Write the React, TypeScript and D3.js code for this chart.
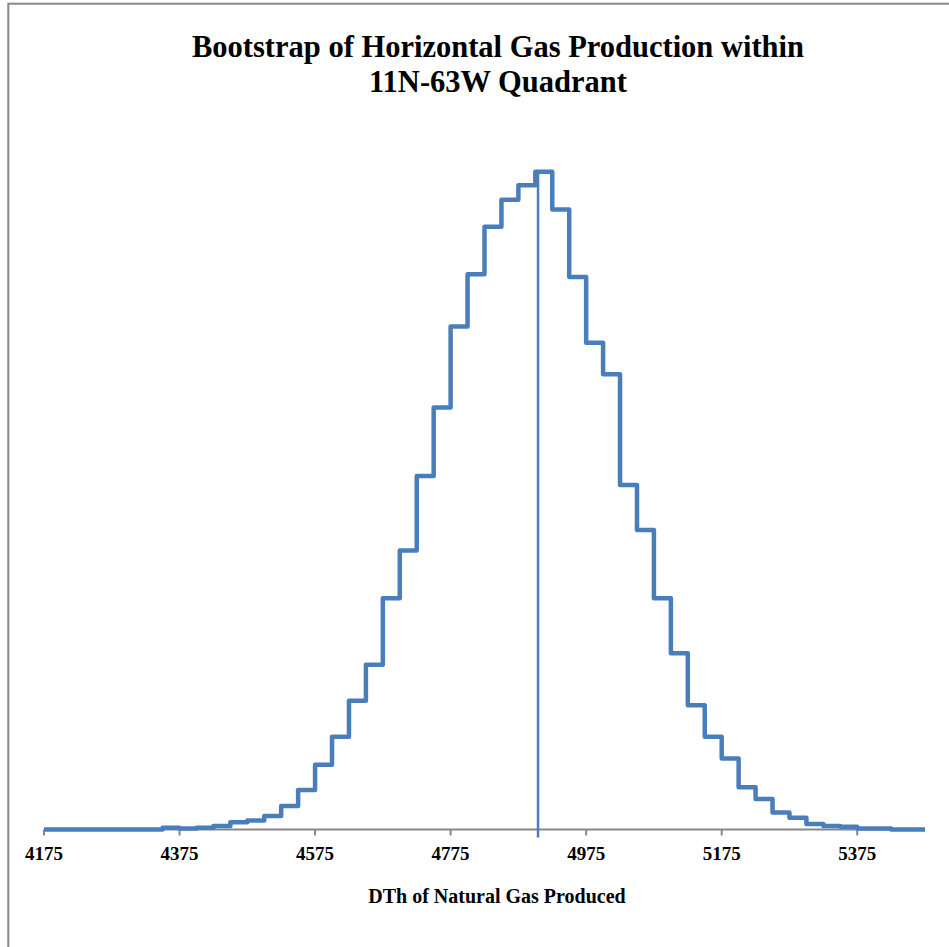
import React from "react";
import * as d3 from "d3";

// Bin counts (bins of 25 DTh starting at 4175)
const binStart = 4175;
const binWidth = 25;
const counts = [
  0, 0, 0, 0, 0, 0, 0, 2, 1, 2,
  4, 8, 10, 15, 26, 44, 72, 103, 143, 183,
  257, 310, 393, 469, 559, 617, 670, 700, 716, 731,
  689, 614, 541, 506, 383, 333, 257, 196, 138, 103,
  79, 47, 34, 19, 13, 6, 4, 3, 1, 1,
  0, 0,
];
const meanValue = 4904;
const meanLine = [-9, 731];
const xTicks = [4175, 4375, 4575, 4775, 4975, 5175, 5375];
const titleLines = ["Bootstrap of Horizontal Gas Production within", "11N-63W Quadrant"];
const xAxisTitle = "DTh of Natural Gas Produced";

const W = 949;
const H = 947;

export default function App() {
  const xEnd = binStart + binWidth * counts.length;
  const x = d3.scaleLinear().domain([binStart, xEnd]).range([44, 925]);
  const y = d3.scaleLinear().domain([0, 800]).range([829.5, 109.7]);

  const pts: [number, number][] = counts.map((c, i) => [binStart + i * binWidth, c]);
  pts.push([xEnd, counts[counts.length - 1]]);
  const line = d3
    .line<[number, number]>()
    .x((d) => x(d[0]))
    .y((d) => y(d[1]))
    .curve(d3.curveStepAfter);

  const serif = "'Liberation Serif', 'Times New Roman', serif";
  const blue = "#4a7ebb";
  const gray = "#878787";

  return (
    <svg
      width={W}
      height={H}
      style={{ position: "absolute", left: 0, top: 0, background: "#fff" }}
    >
      <rect x={0} y={0} width={W} height={H} fill="#fff" />
      <rect x={8.3} y={3.7} width={1000} height={1000} fill="none" stroke={gray} strokeWidth={2} />
      {titleLines.map((t, i) => (
        <text
          key={i}
          x={498}
          y={57 + i * 35}
          textAnchor="middle"
          fontFamily={serif}
          fontWeight="bold"
          fontSize={30.5}
          fill="#000"
        >
          {t}
        </text>
      ))}
      {/* x axis */}
      <line x1={x(binStart)} x2={x(xEnd)} y1={y(0)} y2={y(0)} stroke={gray} strokeWidth={2} />
      {xTicks.map((t) => (
        <g key={t}>
          <line x1={x(t)} x2={x(t)} y1={y(0)} y2={y(0) + 6} stroke={gray} strokeWidth={2} />
          <text
            x={x(t)}
            y={859.5}
            textAnchor="middle"
            fontFamily={serif}
            fontWeight="bold"
            fontSize={19}
            fill="#000"
          >
            {t}
          </text>
        </g>
      ))}
      <text
        x={497}
        y={902.5}
        textAnchor="middle"
        fontFamily={serif}
        fontWeight="bold"
        fontSize={20}
        fill="#000"
      >
        {xAxisTitle}
      </text>
      {/* histogram step line */}
      <path d={line(pts) || ""} fill="none" stroke={blue} strokeWidth={4.5} strokeLinejoin="round" />
      {/* mean line */}
      <line
        x1={x(meanValue)}
        x2={x(meanValue)}
        y1={y(meanLine[0])}
        y2={y(meanLine[1])}
        stroke={blue}
        strokeWidth={2.5}
      />
    </svg>
  );
}
